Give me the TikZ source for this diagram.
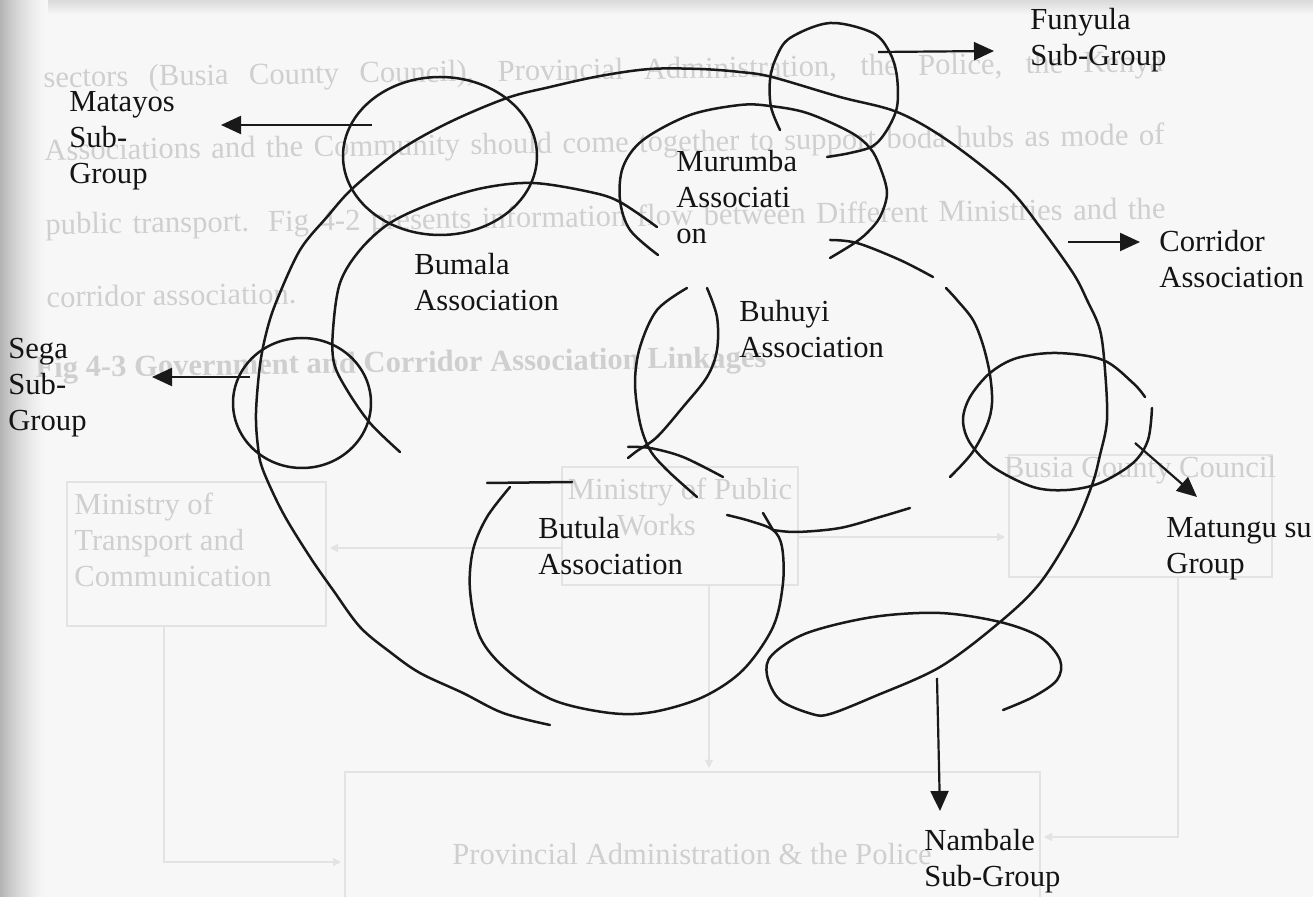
\documentclass[tikz,border=0pt]{standalone}
\usepackage{fontspec}
\setmainfont{Liberation Serif}
\usetikzlibrary{arrows.meta}
\newcommand\lblines[1]{\begin{tabular}[t]{@{}l@{}}#1\end{tabular}}
\begin{document}
\begin{tikzpicture}[x=0.5pt,y=-0.5pt,
  ink/.style={draw=black!90, line width=1.25pt, line join=round, line cap=round},
  pointer/.style={draw=black!90, line width=1.1pt, -{Triangle[length=10pt,width=9pt]}},
  lbl/.style={anchor=base west, inner sep=0pt, font=\fontsize{15.3}{18}\selectfont, text=black!92},
  ghost/.style={draw=black!11, line width=0.7pt},
  ghosttip/.style={ghost, -{Triangle[length=4pt,width=4pt]}},
  ghosttext/.style={inner sep=0pt, text=black!19, font=\fontsize{15.3}{18}\selectfont},
]
\useasboundingbox (0,0) rectangle (1313,897);
\clip (0,0) rectangle (1313,897);

% paper tone, darker at the binding edge and along the top
\fill[black!3] (0,0) rectangle (1313,897);
\foreach \i in {0,...,24} {
  \pgfmathsetmacro\g{3+26*(1-\i/24)^1.6}
  \fill[black!\g] (2*\i,0) rectangle (2*\i+2.3,897);
}
\foreach \i in {0,...,7} {
  \pgfmathsetmacro\g{3+11*(1-\i/7)}
  \fill[black!\g] (48,2*\i) rectangle (1313,2*\i+2.3);
}

% text of the facing page showing through the paper
\begin{scope}[rotate=0.8, transform shape]
\node[ghosttext, anchor=base west] (sh1) at (42,88)
  {\makebox[560pt][s]{sectors (Busia County Council), Provincial Administration, the Police, the Kenya}};
\node[ghosttext, anchor=base west] (sh2) at (42,161)
  {\makebox[560pt][s]{Associations and the Community should come together to support boda hubs as mode of}};
\node[ghosttext, anchor=base west] (sh3) at (42,235)
  {\makebox[560pt][s]{public transport. Fig 4-2 presents information flow between Different Ministries and the}};
\node[ghosttext, anchor=base west] (sh4) at (42,308) {corridor association.};
\node[ghosttext, anchor=base west, font=\bfseries\fontsize{15.3}{18}\selectfont] (sh5) at (30,378)
  {Fig 4-3 Government and Corridor Association Linkages};
\end{scope}
% boxes of the facing page
\draw[ghost] (67,482) rectangle (326,626);
\node[ghosttext, anchor=base west] (shA) at (74,515) {\lblines{Ministry of\\Transport and\\Communication}};
\draw[ghost] (562,467) rectangle (798,585);
\node[ghosttext, anchor=base] (shB) at (680,500) {\lblines{Ministry of Public\\\hspace*{1.6em}Works}};
\draw[ghost] (1009,455) rectangle (1272,577);
\node[ghosttext, anchor=base] (shC) at (1140,478) {Busia County Council};
\draw[ghost] (345,772) rectangle (1040,910);
\node[ghosttext, anchor=base] (shD) at (692,864) {Provincial Administration \& the Police};
\coordinate (gA1) at (562,548);
\coordinate (gA2) at (330,548);
\draw[ghosttip] (gA1) -- (gA2);
\coordinate (gB1) at (798,537);
\coordinate (gB2) at (1005,537);
\draw[ghosttip] (gB1) -- (gB2);
\coordinate (gC1) at (709,585);
\coordinate (gC2) at (709,768);
\draw[ghosttip] (gC1) -- (gC2);
\coordinate (gD1) at (164,626);
\coordinate (gD2) at (164,862);
\coordinate (gD3) at (341,862);
\draw[ghosttip] (gD1) -- (gD2) -- (gD3);
\coordinate (gE1) at (1178,577);
\coordinate (gE2) at (1178,837);
\coordinate (gE3) at (1044,837);
\draw[ghosttip] (gE1) -- (gE2) -- (gE3);

% outer corridor ring, ending in the Nambale loop
\draw[ink] plot[smooth, tension=0.55] coordinates {
  (550,725) (503,713) (463,693) (420,673) (390,652) (360,627) (333,590)
  (310,557) (283,513) (263,470) (258,447) (256,413) (260,365) (267,330)
  (277,300) (300,250) (327,217) (353,188) (400,150) (450,122) (507,98)
  (550,87) (600,76) (650,69) (700,69) (740,72) (772,77) (840,97) (897,112)
  (947,140) (1007,187) (1040,227) (1073,273) (1087,300) (1100,330)
  (1105,370) (1107,420) (1100,455) (1092,485) (1073,530) (1040,583)
  (1000,622) (940,667) (873,697) (830,714) (812,714) (780,700) (767,675)
  (772,655) (807,633) (873,617) (940,613) (1000,622) (1040,637) (1060,660)
  (1057,680) (1033,697) (1003,710)};

% Bumala arc
\draw[ink] plot[smooth, tension=0.55] coordinates {
  (657,227) (620,202) (590,192) (533,183) (483,188) (433,203) (390,223)
  (360,250) (340,283) (333,330) (334,363) (347,390) (370,423) (400,452)};

% Murumba loop
\draw[ink] plot[smooth, tension=0.55] coordinates {
  (658,255) (630,230) (620,200) (623,167) (643,140) (690,115) (740,105)
  (770,106) (807,113) (850,132) (870,148) (880,167) (887,193) (880,217)
  (867,233) (853,244) (830,258)};

% Buhuyi outer arc (two strokes)
\draw[ink] plot[smooth, tension=0.55] coordinates {
  (830,240) (857,243) (900,260) (933,277)};
\draw[ink] plot[smooth, tension=0.55] coordinates {
  (946,288) (957,300) (973,320) (983,345) (990,375) (992,403) (987,425)
  (972,453) (950,477)};

% Funyula circle
\draw[ink] plot[smooth, tension=0.55] coordinates {
  (780,130) (771,107) (770,80) (776,58) (790,38) (830,23) (873,33)
  (890,53) (897,77) (897,107) (887,130) (873,146) (850,153) (827,157)};

% Matayos and Sega circles
\draw[ink] (440,156) ellipse [x radius=48.5pt, y radius=39.5pt];
\draw[ink] (302,403) ellipse [x radius=34.5pt, y radius=32.5pt];

% Matungu circle
\draw[ink] plot[smooth, tension=0.55] coordinates {
  (1145,397) (1133,383) (1103,360) (1057,353) (1017,358) (990,373)
  (970,397) (963,420) (970,443) (993,467) (1033,487) (1067,490)
  (1100,483) (1133,463) (1148,440) (1152,408)};

% Buhuyi inner strokes
\draw[ink] plot[smooth, tension=0.55] coordinates {
  (687,288) (657,310) (640,347) (635,383) (640,423) (650,450) (667,470)
  (697,497)};
\draw[ink] plot[smooth, tension=0.55] coordinates {
  (707,288) (717,317) (717,350) (707,377) (683,407) (657,437) (637,451)
  (628,458)};
\draw[ink] plot[smooth, tension=0.55] coordinates {
  (628,447) (650,448) (683,457) (723,477)};

% Butula loop
\draw[ink] (487,483) -- (572,482);
\draw[ink] plot[smooth, tension=0.55] coordinates {
  (510,487) (487,517) (473,550) (470,590) (480,637) (507,670) (553,700)
  (610,713) (653,712) (703,697) (743,670) (773,627) (783,583) (782,547)
  (773,530) (750,521) (727,515)};
\draw[ink] plot[smooth, tension=0.55] coordinates {
  (773,530) (797,532) (840,528) (880,517) (910,508)};
\draw[ink] (763,513) -- (773,530);

% labels
\node[lbl] (matayos) at (69,112) {\lblines{Matayos\\Sub-\\Group}};
\node[lbl] (sega) at (8,359) {\lblines{Sega\\Sub-\\Group}};
\node[lbl] (bumala) at (414,275) {\lblines{Bumala\\Association}};
\node[lbl] (funyula) at (1030,30) {\lblines{Funyula\\Sub-Group}};
\node[lbl] (murumba) at (676,172) {\lblines{Murumba\\Associati\\on}};
\node[lbl] (buhuyi) at (739,322) {\lblines{Buhuyi\\Association}};
\node[lbl] (corridor) at (1159,252) {\lblines{Corridor\\Association}};
\node[lbl] (matungu) at (1166,538) {\lblines{Matungu su\\Group}};
\node[lbl] (butula) at (538,539) {\lblines{Butula\\Association}};
\node[lbl] (nambale) at (924,850) {\lblines{Nambale\\Sub-Group}};

% pointers from each circle to its group
\coordinate (matayos-from) at (372,125);
\coordinate (matayos-to) at (221,125);
\coordinate (sega-from) at (250,377);
\coordinate (sega-to) at (152,377);
\coordinate (funyula-from) at (878,52);
\coordinate (funyula-to) at (994,51);
\coordinate (corridor-from) at (1068,242);
\coordinate (corridor-to) at (1140,242);
\coordinate (matungu-from) at (1135,443);
\coordinate (matungu-to) at (1197,497);
\coordinate (nambale-from) at (937,678);
\coordinate (nambale-to) at (940,811);
\draw[pointer] (matayos-from) -- (matayos-to);
\draw[pointer] (sega-from) -- (sega-to);
\draw[pointer] (funyula-from) -- (funyula-to);
\draw[pointer] (corridor-from) -- (corridor-to);
\draw[pointer] (matungu-from) -- (matungu-to);
\draw[pointer] (nambale-from) -- (nambale-to);
\end{tikzpicture}
\end{document}
